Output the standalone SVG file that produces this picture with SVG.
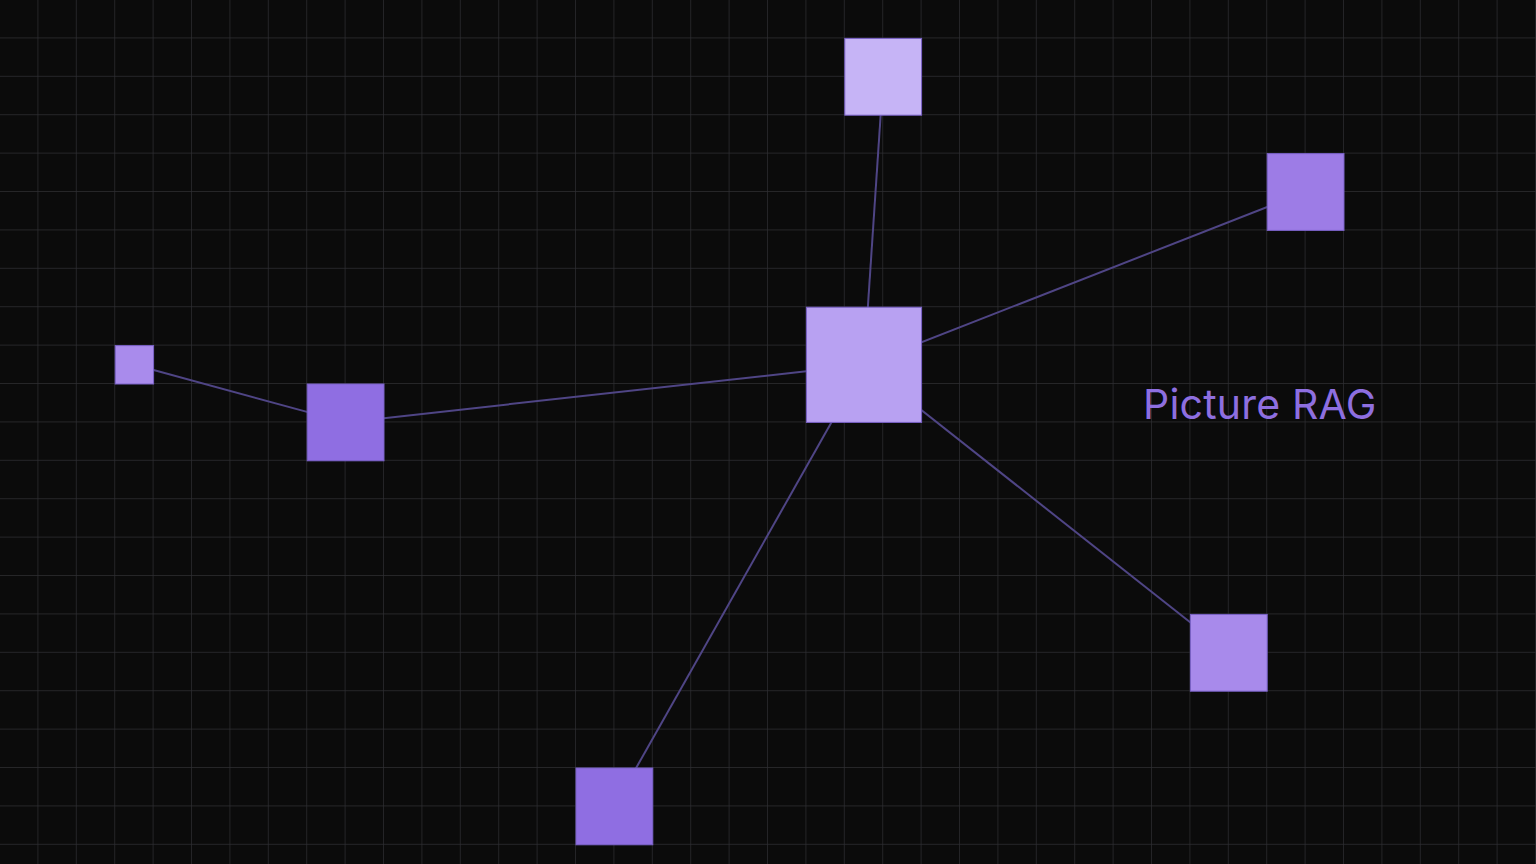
<svg xmlns="http://www.w3.org/2000/svg" width="1536" height="864" viewBox="0 0 1536 864">
<defs>
<pattern id="grid" width="38.4" height="38.4" patternUnits="userSpaceOnUse">
<path d="M38.4 0V38.4M0 38.4H38.4" fill="none" stroke="#2e2e32" stroke-width="1.4"/>
</pattern>
</defs>
<style>
.edge{stroke:#4f4585;stroke-width:2;fill:none}
.node{stroke:#7a62c8;stroke-width:1}
.label{font-family:Inter,"Liberation Sans",sans-serif;font-size:41px;fill:#8e6fe0;letter-spacing:0.2px}
</style>
<rect width="1536" height="864" fill="#0b0b0b"/>
<rect width="1536" height="864" fill="url(#grid)"/>
<g id="connectors">
<line class="edge" x1="864" y1="364.8" x2="883.2" y2="76.8"/>
<line class="edge" x1="864" y1="364.8" x2="1305.6" y2="192"/>
<line class="edge" x1="864" y1="364.8" x2="345.6" y2="422.4"/>
<line class="edge" x1="134.4" y1="364.8" x2="345.6" y2="422.4"/>
<line class="edge" x1="864" y1="364.8" x2="1228.8" y2="652.8"/>
<line class="edge" x1="864" y1="364.8" x2="614.4" y2="806.4"/>
</g>
<g id="node-top"><rect class="node" x="844.8" y="38.4" width="76.8" height="76.8" fill="#c6b4f6"/></g>
<g id="node-topright"><rect class="node" x="1267.2" y="153.6" width="76.8" height="76.8" fill="#9d7ce6"/></g>
<g id="node-center"><rect class="node" x="806.4" y="307.2" width="115.2" height="115.2" fill="#b8a1f2"/></g>
<g id="node-small"><rect class="node" x="115.2" y="345.6" width="38.4" height="38.4" fill="#a98bec"/></g>
<g id="node-left"><rect class="node" x="307.2" y="384" width="76.8" height="76.8" fill="#8f6ee2"/></g>
<g id="node-bottomright"><rect class="node" x="1190.4" y="614.4" width="76.8" height="76.8" fill="#a88aeb"/></g>
<g id="node-bottom"><rect class="node" x="576" y="768" width="76.8" height="76.8" fill="#8f6ee2"/></g>
<g id="title"><text class="label" x="1143" y="419">Picture RAG</text></g>
</svg>
